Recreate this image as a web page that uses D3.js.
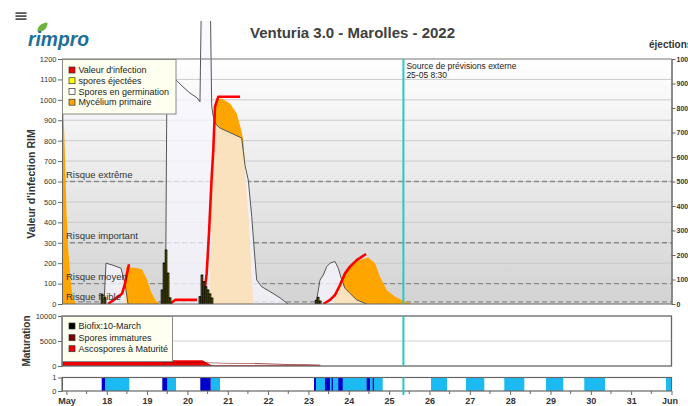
<!DOCTYPE html>
<html><head><meta charset="utf-8">
<script src="https://cdn.jsdelivr.net/npm/d3@7"></script>
<style>body{margin:0;background:#fff}svg{display:block;font-family:"Liberation Sans",Arial,sans-serif}</style>
</head><body><svg id="c" width="688" height="406"></svg>
<script>
// ---------- DATA (time = days after 17 May 2022 00:00) ----------
const chartTitle = "Venturia 3.0 - Marolles - 2022";
const dayLabels = ["May","18","19","20","21","22","23","24","25","26","27","28","29","30","31","Jun"];
const leftTickValues = [0,100,200,300,400,500,600,700,800,900,1000,1100,1200];
const rightTickValues = [0,100,200,300,400,500,600,700,800,900,1000];
const matTickValues = [0,5000,10000];
const stripTickValues = [0,1];
const riskLabels = ["Risque extrême","Risque important","Risque moyen","Risque faible"];
const riskValues = [600,300,100,10];
const legendMain = ["Valeur d'infection","spores éjectées","Spores en germination","Mycélium primaire"];
const legendMat = ["Biofix:10-March","Spores immatures","Ascospores à Maturité"];
const forecastText = ["Source de prévisions externe","25-05 8:30"];
const forecastTime = 8 + 8.5/24;

const myceliumPrimary = [
 [[-0.109,1150],[-0.084,1000],[-0.047,800],[-0.017,600],[0.007,427],[0.047,264],[0.107,103],[0.164,30],[0.238,0]],
 [[1.428,0],[1.477,180],[1.70,178],[1.874,170],[1.998,120],[2.097,60],[2.22,15],[2.32,0]],
 [[3.535,0],[3.585,300],[3.634,850],[3.708,995],[3.857,1007],[4.055,982],[4.222,933],[4.346,843],[4.385,803],[4.452,600],[4.526,400],[4.576,200],[4.638,0]],
 [[6.603,0],[6.727,80],[6.851,135],[7.067,191],[7.273,215],[7.484,228],[7.65,199],[7.774,134],[7.94,69],[8.146,36],[8.352,16],[8.56,0]]
];
const germinatingSpores = [
 [[0.932,0],[0.982,200],[1.155,190],[1.354,175],[1.453,100],[1.527,0]],
 [[2.457,0],[2.494,1150],[2.717,1097],[2.89,1064],[3.063,1033],[3.236,1010],[3.311,990],[3.354,1600],[3.56,1600],[3.602,971],[3.634,925],[3.708,880],[3.807,862],[4.346,813],[4.427,680],[4.509,607],[4.594,428],[4.676,216],[4.717,118],[4.841,85],[5.121,52],[5.295,30],[5.493,0]],
 [[6.187,0],[6.286,117],[6.368,142],[6.453,183],[6.535,200],[6.659,208],[6.741,175],[6.825,118],[6.907,77],[7.031,52],[7.197,20],[7.444,0]]
];
const infectionValue = [
 [[1.031,0],[1.279,35],[1.378,50],[1.453,100],[1.552,195]],
 [[2.568,0],[2.693,20],[3.238,20]],
 [[3.386,0],[3.478,150],[3.535,347],[3.602,623],[3.642,754],[3.684,968],[3.766,1015],[4.304,1015]],
 [[6.368,0],[6.535,20],[6.659,44],[6.783,93],[6.907,150],[7.031,183],[7.197,215],[7.428,245]]
];
const sporesEjected = [[0.883,40],[0.957,25],[2.37,57],[2.42,167],[2.47,220],[2.52,126],[2.57,25],
 [3.31,30],[3.36,118],[3.41,91],[3.46,70],[3.51,57],[3.56,41],[3.61,24],[6.19,15],[6.24,27],[6.29,12]];
const matureAscospores = [[-0.109,1150],[3.37,1150],[3.602,150],[6.29,150],[6.30,0]];
const immatureSpores = [[-0.109,120],[6.29,120],[6.30,0]];
const wetPeriods = [[0.957,1.559],[2.501,2.717],[3.577,3.808],[6.138,7.841],[9.039,9.435],[9.906,10.359],[10.855,11.351],[11.889,12.318],[12.838,13.352],[14.864,15.0]];
const rainPeriods = [[0.875,0.957],[2.377,2.501],[3.319,3.577],[6.138,6.187],[6.41,6.534],[6.576,6.608],[6.74,6.849],[7.444,7.526],[7.593,7.626]];

// ---------- LAYOUT ----------
const T0 = Date.UTC(2022,4,17), DAY = 864e5;
const day = t => new Date(T0 + t*DAY);
const L = 62, R = 671.5;
const main = {top:59, bottom:304}, mat = {top:316, bottom:366}, strip = {top:377.5, bottom:391};
const x = d3.scaleUtc().domain([day(-0.109), day(15)]).range([L, R]);
const yL = d3.scaleLinear([0,1200],[main.bottom, main.top]);
const yR = d3.scaleLinear([0,1000],[main.bottom, main.top]);
const yM = d3.scaleLinear([0,10000],[mat.bottom, mat.top]);
const yS = d3.scaleLinear([0,1],[strip.bottom, strip.top]);
const fmt = d3.format("d");

const svg = d3.select("#c");
const defs = svg.append("defs");
const grad = defs.append("linearGradient").attr("id","bg").attr("x1",0).attr("x2",0).attr("y1",0).attr("y2",1);
grad.append("stop").attr("offset","0%").attr("stop-color","#ffffff");
grad.append("stop").attr("offset","100%").attr("stop-color","#d3d3d3");
defs.append("clipPath").attr("id","clipMain").append("rect").attr("x",L).attr("y",21).attr("width",R-L).attr("height",main.bottom-21);
defs.append("clipPath").attr("id","clipPlot").append("rect").attr("x",L).attr("y",main.top).attr("width",R-L).attr("height",main.bottom-main.top);

// menu icon
[13,16,19].forEach(yy=>svg.append("rect").attr("x",15.5).attr("y",yy-0.8).attr("width",11).attr("height",1.8).attr("fill","#555"));
// logo
svg.append("path").attr("d","M37.5,32 C37,26.5 41,23 47.5,22.5 C47.5,28.5 43.5,32 37.5,32 Z").attr("fill","#6cb33f");
svg.append("text").attr("x",28).attr("y",45.5).attr("font-size",20).attr("font-weight","bold").attr("font-style","italic")
  .attr("fill","#1d6f98").attr("textLength",61).attr("lengthAdjust","spacingAndGlyphs").text("rimpro");
// title
svg.append("text").attr("x",352.5).attr("y",37.5).attr("text-anchor","middle").attr("font-size",15).attr("font-weight","bold").attr("fill","#404040").text(chartTitle);
svg.append("text").attr("x",649).attr("y",48).attr("font-size",10).attr("font-weight","bold").attr("fill","#333").text("éjections");

// ---------- MAIN PANEL ----------
svg.append("rect").attr("x",L).attr("y",main.top).attr("width",R-L).attr("height",main.bottom-main.top).attr("fill","url(#bg)");
const gp = svg.append("g");
gp.selectAll("line.grid").data(leftTickValues.slice(1,-1)).join("line").attr("class","grid")
  .attr("x1",L).attr("x2",R).attr("y1",d=>yL(d)).attr("y2",d=>yL(d)).attr("stroke","#cbcbcb").attr("stroke-width",1);
gp.selectAll("line.risk").data(riskValues).join("line").attr("class","risk")
  .attr("x1",L).attr("x2",R).attr("y1",d=>yL(d)).attr("y2",d=>yL(d)).attr("stroke","#8a8a8a").attr("stroke-width",1.3).attr("stroke-dasharray","5,3");

const series = svg.append("g").attr("clip-path","url(#clipMain)");
const areaL = d3.area().x(d=>x(day(d[0]))).y0(yL(0)).y1(d=>yL(d[1]));
const lineL = d3.line().x(d=>x(day(d[0]))).y(d=>yL(d[1]));
series.selectAll("path.myc").data(myceliumPrimary).join("path").attr("class","myc").attr("d",areaL).attr("fill","#ffa500");
series.selectAll("path.germ").data(germinatingSpores).join("path").attr("class","germ").attr("d",areaL).attr("fill","#f7f7ff").attr("fill-opacity",0.74);
series.selectAll("path.germl").data(germinatingSpores).join("path").attr("class","germl").attr("d",lineL).attr("fill","none").attr("stroke","#555").attr("stroke-width",1);

// risk labels
svg.selectAll("text.risk").data(riskValues).join("text").attr("class","risk")
  .attr("x",66).attr("y",(d,i)=>yL(d)-(i===3?1.5:3.5)).attr("font-size",9.5).attr("fill","#333").text((d,i)=>riskLabels[i]);

const bars = svg.append("g").attr("clip-path","url(#clipPlot)");
bars.selectAll("rect").data(sporesEjected).join("rect")
  .attr("x",d=>x(day(d[0]))-0.8).attr("width",d=>(x(day(d[0]+0.05))-x(day(d[0])))*0.8)
  .attr("y",d=>yR(d[1])).attr("height",d=>yR(0)-yR(d[1]))
  .attr("fill","#a8a800").attr("stroke","#000").attr("stroke-width",1);

series.selectAll("path.inf").data(infectionValue).join("path").attr("class","inf").attr("d",lineL)
  .attr("fill","none").attr("stroke","#ff0000").attr("stroke-width",2.6).attr("stroke-linejoin","round");

// frame & axes
svg.append("line").attr("x1",L).attr("x2",R).attr("y1",main.top).attr("y2",main.top).attr("stroke","#777").attr("stroke-width",1.2);
svg.append("line").attr("x1",L).attr("x2",R).attr("y1",main.bottom).attr("y2",main.bottom).attr("stroke","#666").attr("stroke-width",1);
const styleAxis = (g, fs, fw) => {
  g.selectAll(".domain").attr("stroke","#666");
  g.selectAll(".tick line").attr("stroke","#666");
  g.selectAll(".tick text").attr("font-size",fs).attr("font-weight",fw||"normal").attr("fill","#333").attr("font-family","Liberation Sans, Arial, sans-serif");
};
const axL = svg.append("g").attr("transform",`translate(${L},0)`).call(d3.axisLeft(yL).tickValues(leftTickValues).tickFormat(fmt).tickSize(4).tickPadding(1.5).tickSizeOuter(0));
styleAxis(axL,7.5);
const axR = svg.append("g").attr("transform",`translate(${R},0)`).call(d3.axisRight(yR).tickValues(rightTickValues).tickFormat(fmt).tickSize(4).tickPadding(1).tickSizeOuter(0));
styleAxis(axR,7,"bold"); axR.select(".domain").attr("stroke-width",1.5);

svg.append("text").attr("transform","translate(35,184) rotate(-90)").attr("text-anchor","middle").attr("font-size",10.5).attr("font-weight","bold").attr("fill","#333").text("Valeur d'infection RIM");

// ---------- MATURATION PANEL ----------
svg.append("rect").attr("x",L).attr("y",mat.top).attr("width",R-L).attr("height",mat.bottom-mat.top).attr("fill","#fff");
svg.append("line").attr("x1",L).attr("x2",R).attr("y1",yM(5000)).attr("y2",yM(5000)).attr("stroke","#d0d0d0");
const areaM = d3.area().x(d=>x(day(d[0]))).y0(yM(0)).y1(d=>yM(d[1]));
svg.append("path").datum(matureAscospores).attr("d",areaM).attr("fill","#ee0000");
const stacked = immatureSpores.map(d=>{const m=matureAscospores; let v=0; for(let i=1;i<m.length;i++){ if(d[0]<=m[i][0]){const a=m[i-1],b=m[i];v=a[1]+(b[1]-a[1])*(d[0]-a[0])/(b[0]-a[0]);break;} } return [d[0], v, v+d[1]];});
svg.append("path").datum(stacked).attr("d",d3.area().x(d=>x(day(d[0]))).y0(d=>yM(d[1])).y1(d=>yM(d[2]))).attr("fill","#7a0000");
svg.append("rect").attr("x",L).attr("y",mat.top).attr("width",R-L).attr("height",mat.bottom-mat.top).attr("fill","none").attr("stroke","#666").attr("stroke-width",1.3);
const axM = svg.append("g").attr("transform",`translate(${L},0)`).call(d3.axisLeft(yM).tickValues(matTickValues).tickFormat(fmt).tickSize(4).tickPadding(1.5).tickSizeOuter(0));
styleAxis(axM,7.5);
svg.append("text").attr("transform","translate(30,341) rotate(-90)").attr("text-anchor","middle").attr("font-size",10).attr("font-weight","bold").attr("fill","#333").text("Maturation");

// ---------- STRIP PANEL ----------
svg.append("rect").attr("x",L).attr("y",strip.top).attr("width",R-L).attr("height",strip.bottom-strip.top).attr("fill","#fff");
svg.selectAll("rect.wet").data(wetPeriods).join("rect").attr("class","wet")
  .attr("x",d=>x(day(d[0]))).attr("width",d=>x(day(d[1]))-x(day(d[0]))).attr("y",yS(1)).attr("height",yS(0)-yS(1)).attr("fill","#1cbaf2");
svg.selectAll("rect.rain").data(rainPeriods).join("rect").attr("class","rain")
  .attr("x",d=>x(day(d[0]))).attr("width",d=>x(day(d[1]))-x(day(d[0]))).attr("y",yS(1)).attr("height",yS(0)-yS(1)).attr("fill","#0000cc");
svg.append("rect").attr("x",L).attr("y",strip.top).attr("width",R-L).attr("height",strip.bottom-strip.top).attr("fill","none").attr("stroke","#666").attr("stroke-width",1.2);
const axS = svg.append("g").attr("transform",`translate(${L},0)`).call(d3.axisLeft(yS).tickValues(stripTickValues).tickFormat(fmt).tickSize(4).tickPadding(1.5).tickSizeOuter(0));
styleAxis(axS,7.5);

// x axis
const dayTicks = dayLabels.map((d,i)=>day(i));
const axX = svg.append("g").attr("transform",`translate(0,${strip.bottom})`)
  .call(d3.axisBottom(x).tickValues(dayTicks).tickFormat((d,i)=>dayLabels[i]).tickSize(4).tickPadding(3).tickSizeOuter(0));
styleAxis(axX,9,"bold");
axX.select(".domain").remove();
axX.selectAll(".tick text").filter((d,i)=>i===dayLabels.length-1).attr("text-anchor","end").attr("dx","6");
svg.append("g").selectAll("line").data(dayLabels.slice(1).map((d,i)=>day(i+0.5))).join("line")
  .attr("x1",d=>x(d)).attr("x2",d=>x(d)).attr("y1",strip.bottom).attr("y2",strip.bottom+3).attr("stroke","#666");

// forecast line
const fx = x(day(forecastTime));
[[main.top,main.bottom],[mat.top,mat.bottom],[strip.top,strip.bottom+4]].forEach(p=>
  svg.append("line").attr("x1",fx).attr("x2",fx).attr("y1",p[0]).attr("y2",p[1]).attr("stroke","#2cc6c8").attr("stroke-width",2));
svg.selectAll("text.fc").data(forecastText).join("text").attr("class","fc").attr("x",fx+3).attr("y",(d,i)=>68.5+i*9)
  .attr("font-size",8.5).attr("fill","#222").text(d=>d);

// ---------- LEGENDS ----------
function legend(items, colors, x0, y0, w, h, rowY){
  const g = svg.append("g");
  g.append("rect").attr("x",x0).attr("y",y0).attr("width",w).attr("height",h).attr("fill","#fffff0").attr("stroke","#888").attr("stroke-width",1);
  items.forEach((t,i)=>{
    g.append("rect").attr("x",69).attr("y",rowY[i]-3).attr("width",6).attr("height",6).attr("fill",colors[i]).attr("stroke","#333").attr("stroke-width",0.7);
    g.append("text").attr("x",78.5).attr("y",rowY[i]+3.2).attr("font-size",9).attr("fill","#222").text(t);
  });
}
legend(legendMain, ["#ee0000","#ffff00","#ffffff","#ffa500"], L+0.5, main.top+0.5, 113.5, 54.5, [70,80.7,91.5,102.2]);
legend(legendMat, ["#000000","#7a0000","#ee0000"], L+0.5, mat.top+0.5, 110, 45, [326,337.7,348.7]);
</script></body></html>
